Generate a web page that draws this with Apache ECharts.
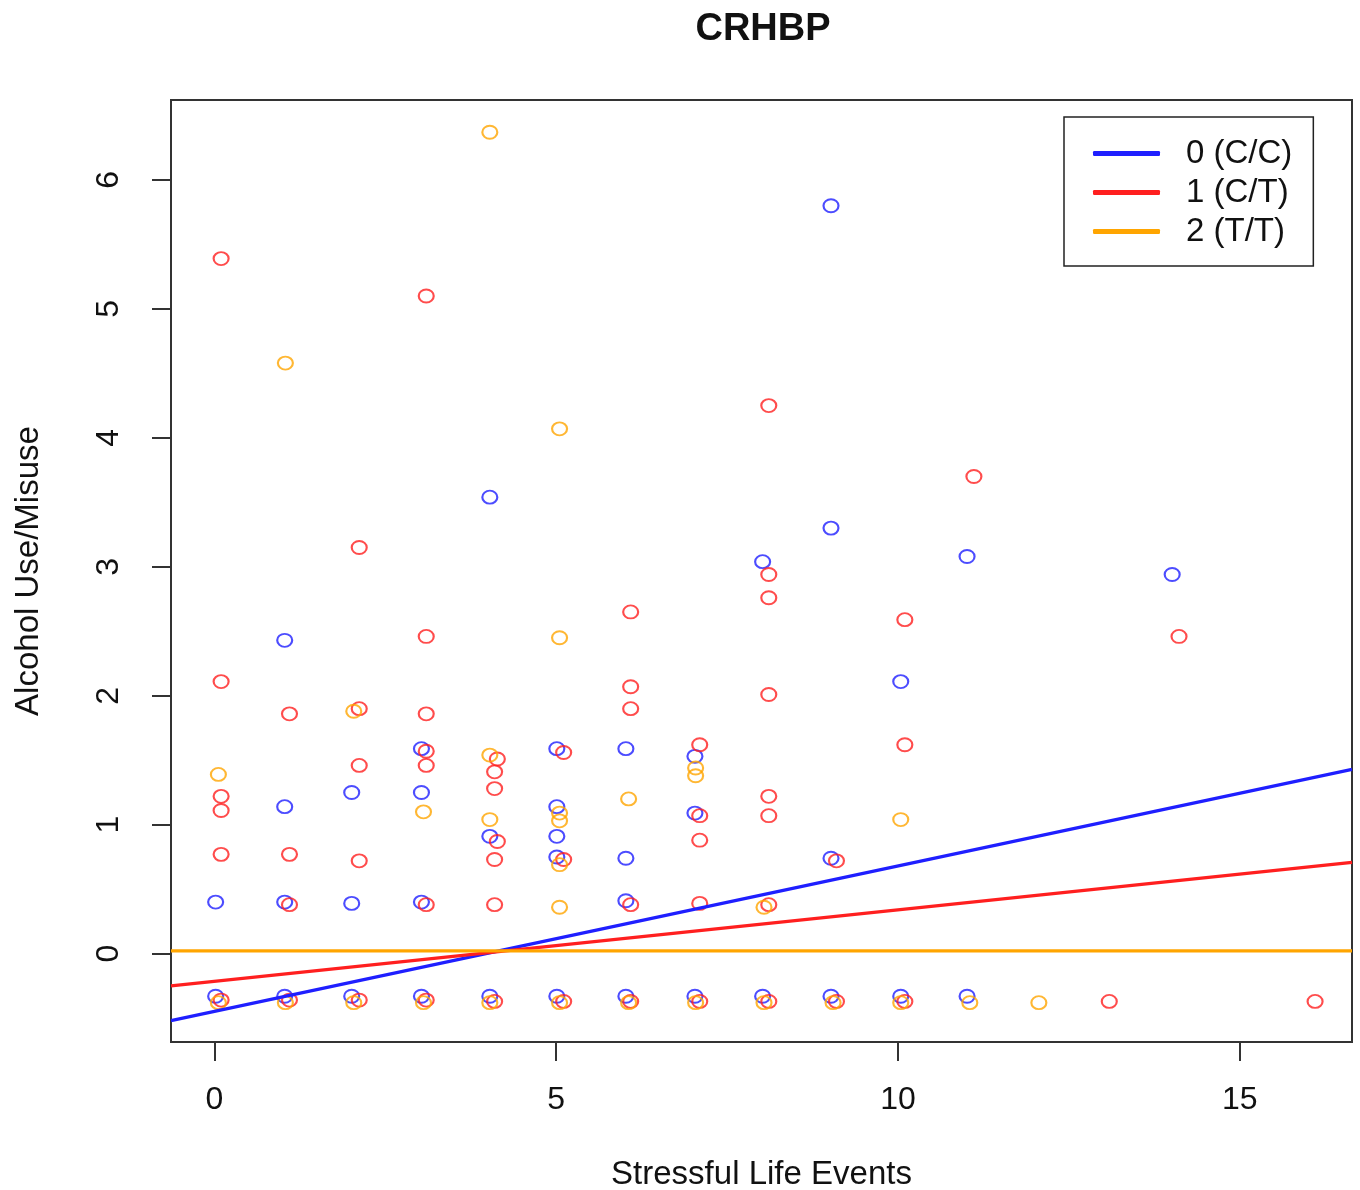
<!DOCTYPE html>
<html>
<head>
<meta charset="utf-8">
<script src="https://cdn.jsdelivr.net/npm/echarts@6/dist/echarts.min.js"></script>
<style>
  html, body { margin: 0; padding: 0; background: #fff; }
  #main { width: 1360px; height: 1190px; }
</style>
</head>
<body>
<div id="main"></div>
<script>
const genotypes = ['0 (C/C)', '1 (C/T)', '2 (T/T)'];
const colors = ['#1f1fff', '#ff1f1f', '#ffa500'];

// [stressful life events (jittered), alcohol use/misuse]
const ccPoints = [
  [0.02, 0.40], [0.02, -0.33],
  [1.03, 2.43], [1.03, 1.14], [1.03, 0.40], [1.03, -0.33],
  [2.01, 1.25], [2.01, 0.39], [2.01, -0.33],
  [3.03, 1.59], [3.03, 1.25], [3.03, 0.40], [3.03, -0.33],
  [4.03, 3.54], [4.03, 0.91], [4.03, -0.33],
  [5.01, 1.59], [5.01, 1.14], [5.01, 0.91], [5.01, 0.75], [5.01, -0.33],
  [6.02, 1.59], [6.02, 0.74], [6.02, 0.41], [6.02, -0.33],
  [7.03, 1.53], [7.03, 1.09], [7.03, -0.33],
  [8.02, 3.04], [8.02, -0.33],
  [9.02, 5.80], [9.02, 3.30], [9.02, 0.74], [9.02, -0.33],
  [10.04, 2.11], [10.04, -0.33],
  [11.01, 3.08], [11.01, -0.33],
  [14.01, 2.94]
];

const ctPoints = [
  [0.10, 5.39], [0.10, 2.11], [0.10, 1.22], [0.10, 1.11], [0.10, 0.77], [0.10, -0.36],
  [1.10, 1.86], [1.10, 0.77], [1.10, 0.38], [1.10, -0.36],
  [2.12, 3.15], [2.12, 1.90], [2.12, 1.46], [2.12, 0.72], [2.12, -0.36],
  [3.10, 5.10], [3.10, 2.46], [3.10, 1.86], [3.10, 1.57], [3.10, 1.46], [3.10, 0.38], [3.10, -0.36],
  [4.14, 1.51], [4.10, 1.41], [4.10, 1.28], [4.14, 0.87], [4.10, 0.73], [4.10, 0.38], [4.10, -0.37],
  [5.11, 1.56], [5.11, 0.73], [5.11, -0.37],
  [6.09, 2.65], [6.09, 2.07], [6.09, 1.90], [6.09, 0.38], [6.09, -0.37],
  [7.10, 1.62], [7.10, 1.07], [7.10, 0.88], [7.10, 0.39], [7.10, -0.37],
  [8.11, 4.25], [8.11, 2.94], [8.11, 2.76], [8.11, 2.01], [8.11, 1.22], [8.11, 1.07], [8.11, 0.38], [8.11, -0.37],
  [9.10, 0.72], [9.10, -0.37],
  [10.10, 2.59], [10.10, 1.62], [10.10, -0.37],
  [11.11, 3.70],
  [13.09, -0.37],
  [14.11, 2.46],
  [16.10, -0.37]
];

const ttPoints = [
  [0.06, 1.39], [0.06, -0.38],
  [1.04, 4.58], [1.04, -0.38],
  [2.04, 1.88], [2.04, -0.38],
  [3.06, 1.10], [3.06, -0.38],
  [4.03, 6.37], [4.03, 1.54], [4.03, 1.04], [4.03, -0.38],
  [5.05, 4.07], [5.05, 2.45], [5.05, 1.09], [5.05, 1.03], [5.05, 0.69], [5.05, 0.36], [5.05, -0.38],
  [6.06, 1.20], [6.06, -0.38],
  [7.04, 1.44], [7.04, 1.38], [7.04, -0.38],
  [8.04, 0.36], [8.04, -0.38],
  [9.05, -0.38],
  [10.04, 1.04], [10.04, -0.38],
  [11.05, -0.38],
  [12.06, -0.38]
];

// fitted regression lines (abline) per genotype
const fitIntercept = [-0.448, -0.215, 0.021];
const fitSlope = [0.1128, 0.0555, 0];

const xTicks = [0, 5, 10, 15];
const yTicks = [0, 1, 2, 3, 4, 5, 6];
const xRange = [-0.633, 16.64];
const yRange = [-0.685, 6.62];

const FONT = 'Liberation Sans, Arial, sans-serif';

function fitLine(i) {
  return xRange.map((x) => [x, fitIntercept[i] + fitSlope[i] * x]);
}

function pointSeries(points, i) {
  return {
    name: genotypes[i] + ' pts',
    type: 'scatter',
    data: points,
    symbol: 'circle',
    symbolSize: [15, 13],
    itemStyle: { color: 'rgba(0,0,0,0)', borderColor: colors[i], borderWidth: 2 },
    z: 2
  };
}

function lineSeries(i) {
  return {
    name: genotypes[i],
    type: 'line',
    data: fitLine(i),
    showSymbol: false,
    symbol: 'none',
    color: colors[i],
    lineStyle: { color: colors[i], width: 3.2 },
    z: 3
  };
}

const chart = echarts.init(document.getElementById('main'));

chart.setOption({
  animation: false,
  backgroundColor: '#fff',
  title: {
    text: 'CRHBP',
    left: 758,
    top: 6,
    textAlign: 'center',
    textStyle: { fontFamily: FONT, fontSize: 38, fontWeight: 'bold', color: '#111' }
  },
  legend: {
    data: genotypes,
    orient: 'vertical',
    left: 1064,
    top: 117,
    icon: 'roundRect',
    itemWidth: 67,
    itemHeight: 5,
    itemGap: 6,
    padding: [20, 21, 18, 29],
    borderColor: '#222',
    borderWidth: 1.5,
    backgroundColor: '#fff',
    selectedMode: false,
    textStyle: { fontFamily: FONT, fontSize: 33, lineHeight: 32, color: '#111', padding: [0, 0, 0, 21] }
  },
  grid: {
    left: 171,
    right: 8,
    top: 100,
    bottom: 148,
    show: true,
    borderColor: '#333',
    borderWidth: 2,
    outerBoundsMode: 'none'
  },
  xAxis: {
    type: 'value',
    min: xRange[0],
    max: xRange[1],
    name: 'Stressful Life Events',
    nameLocation: 'middle',
    nameGap: 116,
    nameTextStyle: { fontFamily: FONT, fontSize: 33, color: '#111' },
    axisLine: { show: false, onZero: false },
    splitLine: { show: false },
    axisTick: { show: true, length: 19, customValues: xTicks, lineStyle: { color: '#333', width: 2 } },
    axisLabel: { customValues: xTicks, margin: 42, fontFamily: FONT, fontSize: 32, color: '#111' }
  },
  yAxis: {
    type: 'value',
    min: yRange[0],
    max: yRange[1],
    name: 'Alcohol Use/Misuse',
    nameLocation: 'middle',
    nameGap: 126,
    nameTextStyle: { fontFamily: FONT, fontSize: 33, color: '#111' },
    axisLine: { show: false, onZero: false },
    splitLine: { show: false },
    axisTick: { show: true, length: 19, customValues: yTicks, lineStyle: { color: '#333', width: 2 } },
    axisLabel: { customValues: yTicks, rotate: 90, margin: 46, fontFamily: FONT, fontSize: 32, color: '#111' }
  },
  series: [
    pointSeries(ccPoints, 0),
    pointSeries(ctPoints, 1),
    pointSeries(ttPoints, 2),
    lineSeries(0),
    lineSeries(1),
    lineSeries(2)
  ]
});
</script>
</body>
</html>
